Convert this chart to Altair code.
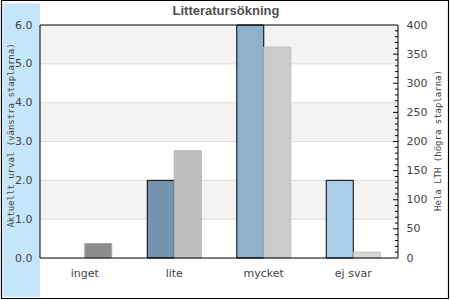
import altair as alt
import pandas as pd

# ---- data ----
title_text = "Litteratursökning"
categories = ["inget", "lite", "mycket", "ej svar"]
left_values = [0.0, 2.0, 6.0, 2.0]          # Aktuellt urval (vänstra staplarna)
right_values = [25, 184, 362, 10]            # Hela LTH (högra staplarna)
left_ticks = [0, 1, 2, 3, 4, 5, 6]
right_ticks = [0, 50, 100, 150, 200, 250, 300, 350, 400]
right_minor = [v for v in range(10, 400, 10) if v % 50 != 0]
right_major_inner = [50, 100, 150, 200, 250, 300, 350]
band_lo = [1, 3, 5]
band_hi = [2, 4, 6]
grid_vals = [1, 2, 3, 4, 5]

# ---- styles ----
left_colors = ["#7393ae", "#7393ae", "#8fb1cc", "#aacde9"]
right_colors = ["#8c8c8c", "#bebebe", "#cbcbcb", "#d6d6d6"]
right_strokes = ["#aaaaaa", "#b4b4b4", "#bdbdbd", "#bdbdbd"]
label_color = "#444444"

W, H = 358, 233

df = pd.DataFrame({"cat": categories, "left": left_values, "right": right_values})
bands = pd.DataFrame({"lo": band_lo, "hi": band_hi})
grid = pd.DataFrame({"v": grid_vals})
minor = pd.DataFrame({"v": right_minor})
major = pd.DataFrame({"v": right_major_inner})
one = pd.DataFrame({"a": [0]})
title_df = pd.DataFrame({"t": [title_text]})

xenc = alt.X("cat:N", sort=categories,
             scale=alt.Scale(domain=categories, paddingInner=0, paddingOuter=0),
             axis=alt.Axis(title=None, ticks=False, domain=False, labelAngle=0,
                           labelPadding=9, labelFont="DejaVu Sans", labelFontSize=11,
                           labelColor=label_color, labelBaseline="top"))

left_scale = alt.Scale(domain=[0, 6], nice=False)
left_axis = alt.Axis(values=left_ticks, format=".1f", grid=False, ticks=False, domain=False,
                     orient="left", labelPadding=8, labelFont="DejaVu Sans", labelFontSize=11,
                     labelColor=label_color,
                     title="Aktuellt urval (vänstra staplarna)", titleFont="DejaVu Sans Mono",
                     titleFontSize=9, titleFontWeight="normal", titleColor=label_color,
                     titleAngle=270, titleX=-30, titleY=110, titleAlign="center",
                     titleBaseline="middle", zindex=1)

right_scale = alt.Scale(domain=[0, 400], nice=False)
right_axis = alt.Axis(values=right_ticks, grid=False, ticks=False, domain=False,
                      orient="right", labelPadding=8, labelFont="DejaVu Sans", labelFontSize=11,
                      labelColor=label_color,
                      title="Hela LTH (högra staplarna)", titleFont="DejaVu Sans Mono",
                      titleFontSize=9, titleFontWeight="normal", titleColor=label_color,
                      titleAngle=270, titleX=39, titleY=115, titleAlign="center",
                      titleBaseline="middle", zindex=1)

panel = alt.Chart(one).mark_rect(color="#c6e6fb").encode(
    x=alt.value(-37), x2=alt.value(0), y=alt.value(-21.7), y2=alt.value(271.7))
border = alt.Chart(one).mark_rect(fill=None, stroke="black", strokeWidth=1.2).encode(
    x=alt.value(-38.5), x2=alt.value(408.5), y=alt.value(-24.5), y2=alt.value(273.5))
title_mark = alt.Chart(title_df).mark_text(
    font="Liberation Sans", fontSize=13, fontWeight="bold", color="#505050",
    align="center", baseline="alphabetic").encode(
    text="t:N", x=alt.value(186), y=alt.value(-10))

band_layer = alt.Chart(bands).mark_rect(color="#f3f3f3").encode(
    y=alt.Y("lo:Q", scale=left_scale, axis=left_axis), y2="hi:Q")
grid_layer = alt.Chart(grid).mark_rule(color="#dedede", strokeWidth=1).encode(
    y=alt.Y("v:Q", scale=left_scale, axis=left_axis))
left_bars = alt.Chart(df).mark_bar(width=27, xOffset=-13.5, stroke="black", strokeWidth=1).encode(
    x=xenc,
    y=alt.Y("left:Q", scale=left_scale, axis=left_axis),
    color=alt.Color("cat:N", scale=alt.Scale(domain=categories, range=left_colors), legend=None),
    strokeOpacity=alt.condition("datum.left > 0", alt.value(1), alt.value(0)))

left_group = alt.layer(panel, border, title_mark, band_layer, grid_layer, left_bars)

right_bars = alt.Chart(df).mark_bar(width=27, xOffset=13.5, strokeWidth=1).encode(
    x=xenc,
    y=alt.Y("right:Q", scale=right_scale, axis=right_axis),
    color=alt.Color("cat:N", scale=alt.Scale(domain=categories, range=right_colors), legend=None),
    stroke=alt.Stroke("cat:N", scale=alt.Scale(domain=categories, range=right_strokes), legend=None))
minor_ticks = alt.Chart(minor).mark_rule(color="black", strokeWidth=1).encode(
    y=alt.Y("v:Q", scale=right_scale, axis=right_axis), x=alt.value(W - 3), x2=alt.value(W))
major_ticks = alt.Chart(major).mark_rule(color="black", strokeWidth=1).encode(
    y=alt.Y("v:Q", scale=right_scale, axis=right_axis), x=alt.value(W - 5), x2=alt.value(W))
frame = alt.Chart(one).mark_rect(fill=None, stroke="black", strokeWidth=1).encode(
    x=alt.value(0), x2=alt.value(W), y=alt.value(0), y2=alt.value(H))

right_group = alt.layer(right_bars, minor_ticks, major_ticks, frame)

chart = alt.layer(left_group, right_group).resolve_scale(
    y="independent", color="independent", stroke="independent"
).properties(
    width=W, height=H,
    autosize=alt.AutoSizeParams(type="none"),
    padding={"left": 40, "top": 25, "right": 52, "bottom": 42},
    background="white",
).configure_view(stroke=None)

chart.save("out.html", embed_options={"renderer": "svg", "actions": False})
